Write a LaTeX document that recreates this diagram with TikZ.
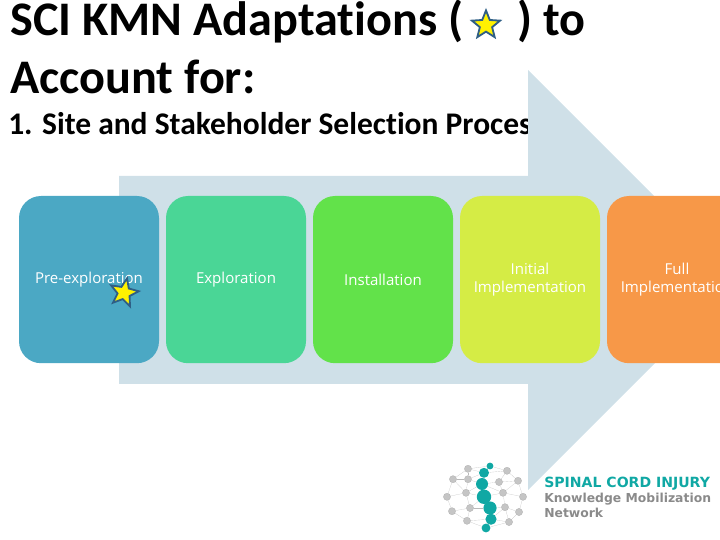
\documentclass[tikz,border=0pt]{standalone}
\usepackage{fontspec}
\setmainfont[Ligatures = NoCommon]{Carlito}
\newfontfamily\boxfont{Open Sans}
\newfontfamily\logofont{DejaVu Sans}
\usetikzlibrary{shapes.geometric, backgrounds}

\definecolor{arrowblue}{HTML}{CFE0E8}
\definecolor{preblue}{HTML}{4BA8C4}
\definecolor{explgreen}{HTML}{4AD696}
\definecolor{instgreen}{HTML}{62E24A}
\definecolor{inityellow}{HTML}{D5EC45}
\definecolor{fullorange}{HTML}{F79848}
\definecolor{stargray}{HTML}{2F5F85}
\definecolor{logoteal}{HTML}{10A8A4}
\definecolor{logogray}{HTML}{8A8A8A}

\tikzset{
	title/.style = {anchor = base west, inner sep = 0, font = \fontsize{34.3}{34.3}\selectfont\bfseries},
	subtitle/.style = {anchor = base west, inner sep = 0, font = \fontsize{22.4}{22.4}\selectfont\bfseries},
	stage/.style = {rectangle, rounded corners = 0.55 cm, minimum width = 3.5 cm, minimum height = 4.18 cm, inner sep = 0, align = center, text = white, font = \boxfont\fontsize{10.7}{12.8}\selectfont},
	kmnstar/.style = {star, star points = 5, star point ratio = 2.3, minimum size = 0.74 cm, inner sep = 0, fill = yellow, draw = stargray, line width = 1.3 pt},
	spine/.style = {circle, fill = logoteal, inner sep = 0},
	joint/.style = {circle, fill = logogray!50, draw = logogray!70, very thin, minimum size = 0.18 cm, inner sep = 0},
	logotext/.style = {anchor = base west, inner sep = 0, font = \logofont\bfseries}
}

\begin{document}
\begin{tikzpicture}
	 \useasboundingbox (0, 0) rectangle (18, 13.5);
	 \clip (0, 0) rectangle (18, 13.5);

	 \node[title] (titleone) at (0.25, 12.6) {SCI KMN Adaptations (};
	 \node[title] (titletwo) at (12.92, 12.6) {) to};
	 \node[title] (titlethree) at (0.25, 11.15) {Account for:};
	 \node[subtitle] (subtitle) at (0.2, 10.14) {1. Site and Stakeholder Selection Process};
	 \node[kmnstar] (titlestar) at (12.15, 12.87) {};

	 \fill[arrowblue] (2.975, 9.1) -- (13.2, 9.1) -- (13.2, 11.75) -- (18.45, 6.5) -- (13.2, 1.25) -- (13.2, 3.9) -- (2.975, 3.9) -- cycle;

	 \node[stage, fill = preblue] (pre) at (2.225, 6.51) {Pre-exploration};
	 \node[stage, fill = explgreen] (expl) at (5.9, 6.51) {Exploration};
	 \node[stage, fill = instgreen] (inst) at (9.575, 6.51) {Installation};
	 \node[stage, fill = inityellow] (init) at (13.25, 6.51) {Initial\\Implementation};
	 \node[stage, fill = fullorange] (full) at (16.925, 6.51) {Full\\Implementation};
	 \node[kmnstar, rotate = -12] (prestar) at (3.1, 6.18) {};

	 % logo
	 \foreach \name/\x/\y in {a/11.7/1.78, b/12.675/1.73, c/11.325/1.52, d/11.7/1.52, e/12.475/1.45, f/12.95/1.48, g/11.65/1.18, h/12.575/1.18, i/11.175/1.08, j/13.075/1.08, k/11.75/0.8, l/12.625/0.82, m/11.3/0.72, n/12.975/0.7, o/11.675/0.48, p/12.725/0.45}
	 \node[joint] (\name) at (\x, \y) {};
	 \foreach \name/\x/\y/\d in {s/12.25/1.85/0.17, t/12.1/1.68/0.25, u/12.05/1.4/0.3, v/12.1/1.08/0.36, w/12.25/0.8/0.33, x/12.275/0.52/0.28, y/12.15/0.3/0.22}
	 \node[spine, minimum size = \d cm] (\name) at (\x, \y) {};

	 \begin{scope}[on background layer]
	 \foreach \from/\to in {a/c, a/d, a/s, a/t, b/s, b/e, b/f, b/t, c/d, c/i, c/g, d/t, d/g, d/u, e/f, e/h, e/u, f/j, f/h, g/i, g/k, g/u, g/v, h/j, h/l, h/v, h/u, i/m, j/n, k/m, k/o, k/v, k/w, l/n, l/p, l/w, l/x, m/o, n/p, o/y, o/x, p/y, p/x}
	 \draw[logogray!60, ultra thin] (\from) -- (\to);
	 \foreach \from/\to in {s/t, t/u, u/v, v/w, w/x, x/y}
	 \draw[logoteal, thick] (\from) -- (\to);
	 \end{scope}

	 \node[logotext, text = logoteal, font = \logofont\bfseries\fontsize{10}{10}\selectfont] (logoone) at (13.6, 1.3) {SPINAL CORD INJURY};
	 \node[logotext, text = logogray, font = \logofont\bfseries\fontsize{8.8}{8.8}\selectfont] (logotwo) at (13.6, 0.93) {Knowledge Mobilization};
	 \node[logotext, text = logogray, font = \logofont\bfseries\fontsize{8.8}{8.8}\selectfont] (logothree) at (13.6, 0.55) {Network};
\end{tikzpicture}
\end{document}
